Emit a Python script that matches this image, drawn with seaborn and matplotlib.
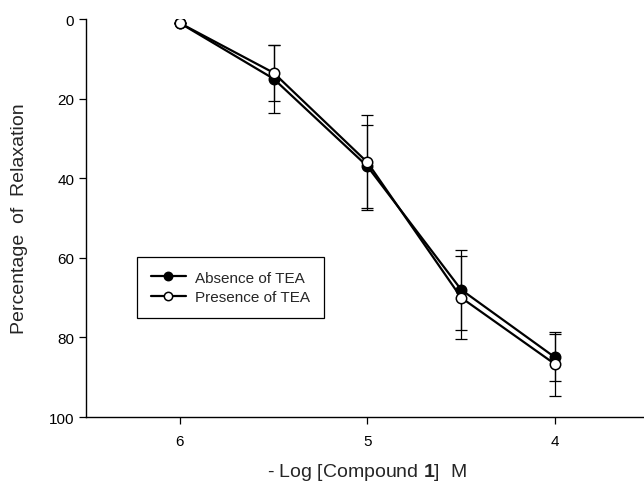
import matplotlib
matplotlib.use("Agg")
import matplotlib.pyplot as plt
import seaborn as sns
import pandas as pd

# -log concentration and % relaxation
log_conc = [6.0, 5.5, 5.0, 4.5, 4.0]
absence_mean = [1.0, 15.0, 37.0, 68.0, 85.0]
absence_err = [0.0, 8.5, 10.5, 10.0, 6.0]
presence_mean = [1.0, 13.5, 36.0, 70.0, 86.7]
presence_err = [0.0, 7.0, 12.0, 10.5, 8.0]
series_names = ["Absence of TEA", "Presence of TEA"]
x_ticks = [6, 5, 4]
y_ticks = [0, 20, 40, 60, 80, 100]

sns.set_style("ticks")
plt.rcParams["font.family"] = ["Liberation Sans", "DejaVu Sans"]
plt.rcParams["mathtext.fontset"] = "custom"
plt.rcParams["mathtext.bf"] = "Liberation Sans:bold"
plt.rcParams["mathtext.rm"] = "Liberation Sans"

df = pd.concat([
    pd.DataFrame({"x": log_conc, "y": absence_mean, "err": absence_err, "series": series_names[0]}),
    pd.DataFrame({"x": log_conc, "y": presence_mean, "err": presence_err, "series": series_names[1]}),
])

fig = plt.figure(figsize=(6.44, 4.89), dpi=100)
ax = fig.add_axes([0.1335, 0.145, 0.874, 0.814])

faces = {series_names[0]: "black", series_names[1]: "white"}
for name in series_names:
    sub = df[df["series"] == name]
    ax.errorbar(sub["x"], sub["y"], yerr=sub["err"], fmt="none", ecolor="black",
                elinewidth=0.9, capsize=4, capthick=0.9, zorder=2)
    sns.lineplot(data=sub, x="x", y="y", ax=ax, color="black", linewidth=1.6,
                 marker="o", markersize=7.5, markerfacecolor=faces[name],
                 markeredgecolor="black", markeredgewidth=1.1, label=name,
                 sort=False, zorder=3)

ax.set_xlim(6.5, 3.5)
ax.set_ylim(100, 0)
ax.set_xticks(x_ticks)
ax.set_xticklabels([str(t) for t in x_ticks])
ax.set_yticks(y_ticks)
ax.set_yticklabels([str(t) for t in y_ticks])
ax.tick_params(axis="both", labelsize=11, length=5, width=0.9, direction="out", colors="black")
ax.tick_params(axis="x", pad=7)
for s in ["top", "right"]:
    ax.spines[s].set_visible(False)
for s in ["left", "bottom"]:
    ax.spines[s].set_linewidth(1.0)
    ax.spines[s].set_color("black")

ax.set_xlabel("- Log [Compound $\\mathbf{1}$]  M", fontsize=14)
ax.set_ylabel("Percentage  of  Relaxation", fontsize=14)
ax.xaxis.set_label_coords(0.5, -0.11)
ax.yaxis.set_label_coords(-0.103, 0.5)

leg = ax.legend(loc="upper left", bbox_to_anchor=(137 / 644, 1 - 258 / 489),
                bbox_transform=fig.transFigure, fontsize=11, frameon=True,
                fancybox=False, edgecolor="black", framealpha=1,
                handlelength=2.3, handletextpad=0.6, markerscale=0.8,
                borderpad=0.9, labelspacing=0.35, borderaxespad=0)
leg.get_frame().set_linewidth(0.9)

fig.savefig("out.png", dpi=100)
